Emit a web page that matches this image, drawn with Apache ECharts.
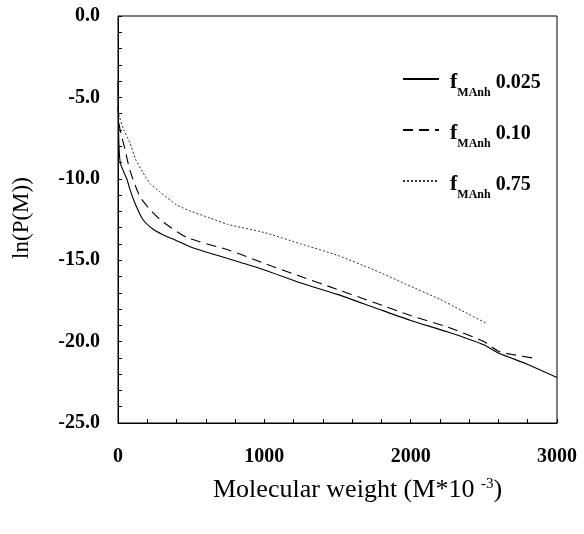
<!DOCTYPE html>
<html>
<head>
<meta charset="utf-8">
<script src="https://cdn.jsdelivr.net/npm/echarts@6/dist/echarts.min.js"></script>
<style>
  html, body { margin: 0; padding: 0; background: #fff; }
  #chart { width: 584px; height: 534px; }
</style>
</head>
<body>
<div id="chart"></div>
<script>
// Molecular weight (M*10^-3) sample points and ln(P(M)) for each MAnh fraction
const mw025 = [0, 5, 15, 40, 60, 80, 116, 170, 240, 300, 400, 500, 750, 1000, 1250, 1500, 1750, 2000, 2250, 2500, 2600, 2800, 3000];
const ln025 = [-4.0, -7.5, -9.0, -9.6, -10.0, -10.6, -11.5, -12.5, -13.1, -13.4, -13.8, -14.2, -14.9, -15.6, -16.4, -17.1, -17.9, -18.7, -19.4, -20.2, -20.7, -21.4, -22.2];

const mw010 = [0, 10, 48, 82, 150, 220, 300, 470, 763, 1000, 1250, 1500, 1750, 2000, 2250, 2500, 2600, 2700, 2830];
const ln010 = [-5.6, -6.8, -8.2, -9.5, -11.1, -11.9, -12.6, -13.6, -14.4, -15.2, -16.0, -16.8, -17.6, -18.4, -19.1, -20.0, -20.6, -20.8, -21.0];

const mw075 = [0, 10, 40, 82, 120, 170, 220, 286, 400, 500, 627, 750, 1000, 1250, 1500, 1750, 2000, 2200, 2350, 2522];
const ln075 = [-5.8, -6.2, -7.0, -7.8, -8.8, -9.6, -10.3, -10.8, -11.6, -12.0, -12.4, -12.8, -13.3, -14.0, -14.7, -15.6, -16.6, -17.4, -18.1, -18.9];

const seriesNames = ['0.025', '0.10', '0.75'];
const xTicks = { min: 0, max: 3000, step: 1000 };
const yTicks = { min: -25, max: 0, step: 5 };

const pairs = (xs, ys) => xs.map((x, i) => [x, ys[i]]);

const FONT = 'Liberation Serif';
const axisText = { color: '#000', fontFamily: FONT, fontSize: 20, fontWeight: 'bold' };

const chart = echarts.init(document.getElementById('chart'), null, { renderer: 'canvas' });

chart.setOption({
  animation: false,
  backgroundColor: '#fff',
  grid: {
    left: 118, right: 27, top: 16, bottom: 111,
    show: true, borderColor: '#000', borderWidth: 1, backgroundColor: 'transparent'
  },
  legend: {
    orient: 'vertical',
    left: 397, top: 66,
    itemWidth: 36, itemHeight: 14, itemGap: 23,
    itemStyle: { opacity: 0 },
    data: seriesNames,
    formatter: name => '{f|f}{s|MAnh}{v| ' + name + '}',
    textStyle: {
      color: '#000', fontFamily: FONT, padding: [0, 0, 0, 6],
      rich: {
        f: { fontFamily: FONT, fontSize: 22, fontWeight: 'bold', color: '#000', verticalAlign: 'bottom', lineHeight: 28 },
        s: { fontFamily: FONT, fontSize: 12, fontWeight: 'bold', color: '#000', verticalAlign: 'bottom', lineHeight: 20, padding: [0, 0, -6, 0] },
        v: { fontFamily: FONT, fontSize: 20, fontWeight: 'bold', color: '#000', verticalAlign: 'bottom', lineHeight: 28 }
      }
    }
  },
  xAxis: {
    type: 'value',
    min: xTicks.min, max: xTicks.max, interval: xTicks.step,
    axisLine: { show: true, onZero: false, lineStyle: { color: '#000', width: 1 } },
    axisTick: { show: true, inside: true, length: 4, lineStyle: { color: '#000' } },
    minorTick: { show: true, splitNumber: 5, length: 4, lineStyle: { color: '#000' } },
    splitLine: { show: false },
    axisLabel: Object.assign({ margin: 24, formatter: v => String(v) }, axisText)
  },
  yAxis: {
    type: 'value',
    min: yTicks.min, max: yTicks.max, interval: yTicks.step,
    axisLine: { show: true, onZero: false, lineStyle: { color: '#000', width: 1 } },
    axisTick: { show: true, inside: true, length: 4, lineStyle: { color: '#000' } },
    minorTick: { show: true, splitNumber: 5, length: 4, lineStyle: { color: '#000' } },
    splitLine: { show: false },
    axisLabel: Object.assign({ margin: 18, formatter: v => v.toFixed(1) }, axisText)
  },
  graphic: [
    {
      type: 'text', left: 213, top: 477,
      style: {
        text: '{t|Molecular weight (M*10 }{p|-3}{t|)}',
        rich: {
          t: { fontFamily: FONT, fontSize: 26, fill: '#000', verticalAlign: 'bottom', lineHeight: 32 },
          p: { fontFamily: FONT, fontSize: 15, fill: '#000', verticalAlign: 'bottom', lineHeight: 32, padding: [0, 0, 11, 0] }
        }
      }
    },
    {
      type: 'text', x: 22, y: 218, rotation: Math.PI / 2,
      style: {
        text: 'ln(P(M))', fontFamily: FONT, fontSize: 23, fill: '#000',
        align: 'center', verticalAlign: 'middle'
      }
    }
  ],
  series: [
    {
      name: seriesNames[0], type: 'line', data: pairs(mw025, ln025),
      symbol: 'none', smooth: 0.2,
      lineStyle: { color: '#000', width: 1.1, type: 'solid' },
      itemStyle: { color: '#000' }
    },
    {
      name: seriesNames[1], type: 'line', data: pairs(mw010, ln010),
      symbol: 'none', smooth: 0.2,
      lineStyle: { color: '#000', width: 1.1, type: [10, 6] },
      itemStyle: { color: '#000' }
    },
    {
      name: seriesNames[2], type: 'line', data: pairs(mw075, ln075),
      symbol: 'none', smooth: 0.2,
      lineStyle: { color: '#333', width: 1, type: [2, 2] },
      itemStyle: { color: '#333' }
    }
  ]
});
</script>
</body>
</html>
